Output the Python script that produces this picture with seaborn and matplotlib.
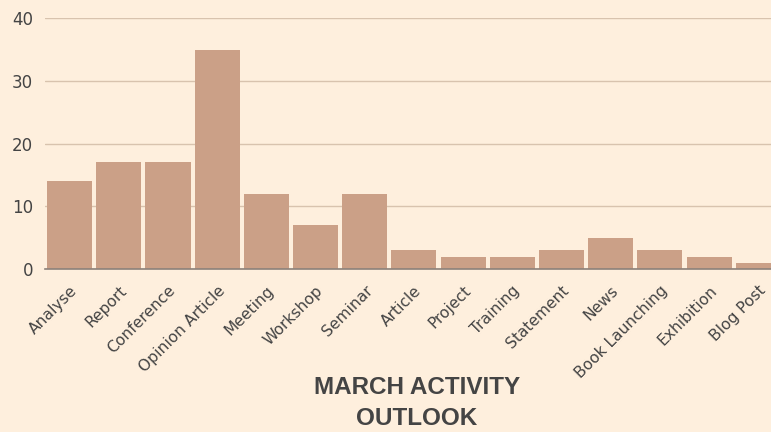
import matplotlib
matplotlib.use("Agg")
import matplotlib.pyplot as plt
import seaborn as sns
import pandas as pd

categories = ["Analyse", "Report", "Conference", "Opinion Article", "Meeting", "Workshop",
              "Seminar", "Article", "Project", "Training", "Statement", "News",
              "Book Launching", "Exhibition", "Blog Post"]
values = [14, 17, 17, 35, 12, 7, 12, 3, 2, 2, 3, 5, 3, 2, 1]
yticks = [0, 10, 20, 30, 40]
title = "MARCH ACTIVITY\nOUTLOOK"

bg = "#FEEFDD"
bar_color = "#CBA087"
text_color = "#444444"

sns.set_theme(style="white")
plt.rcParams['font.family'] = ['DejaVu Sans']

df = pd.DataFrame({"category": categories, "value": values})

fig = plt.figure(figsize=(7.71, 4.32), dpi=100)
fig.patch.set_facecolor(bg)
# the reference chart is clipped at its right edge
ax = fig.add_axes([0.0584, 0.377, 0.957, 0.581])
ax.set_facecolor(bg)

sns.barplot(data=df, x="category", y="value", color=bar_color, saturation=1,
            width=0.915, linewidth=0, ax=ax, zorder=3)

ax.set_ylim(0, 40)
ax.set_xlim(-0.5, len(categories) - 0.5)
ax.set_yticks(yticks)
ax.yaxis.grid(True, color="#D8C3AE", linewidth=1, zorder=0)
ax.set_axisbelow(True)
for s in ["top", "right", "left"]:
    ax.spines[s].set_visible(False)
ax.spines["bottom"].set_color("#8C817A")
ax.spines["bottom"].set_linewidth(1.2)
ax.spines["bottom"].set_zorder(4)
ax.tick_params(axis="both", length=0, colors=text_color)
ax.tick_params(axis="y", labelsize=12, pad=8.6)
ax.tick_params(axis="x", labelsize=11.2, pad=10)
plt.setp(ax.get_xticklabels(), rotation=45, ha="right", rotation_mode="anchor")
ax.set_xlabel("")
ax.set_ylabel("")

fig.text(0.541, 0.004, title, ha="center", va="bottom", fontsize=17.5,
         fontweight="bold", color=text_color, linespacing=1.45,
         family=["Liberation Sans", "DejaVu Sans"])

fig.savefig("out.png", dpi=100, facecolor=bg)
